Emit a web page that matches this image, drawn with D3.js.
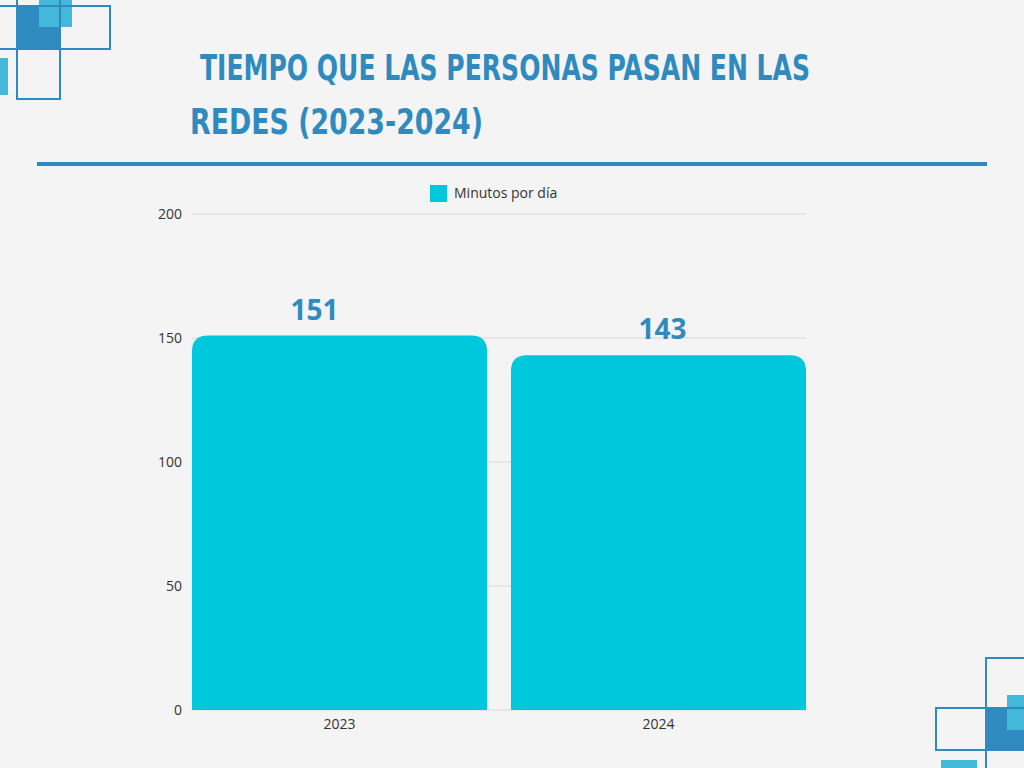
<!DOCTYPE html>
<html><head><meta charset="utf-8">
<script src="https://cdn.jsdelivr.net/npm/d3@7"></script>
<style>body{margin:0;background:#f4f4f4}</style>
</head><body>
<script>
const categories = ['2023', '2024'];
const values = [151, 143];
const yTicks = [0, 50, 100, 150, 200];
const seriesName = 'Minutos por día';

const svg = d3.select('body').append('svg').attr('width', 1024).attr('height', 768);
svg.append('rect').attr('width', 1024).attr('height', 768).attr('fill', '#f4f4f4');

const dark = '#2f8bbf', light = '#44b8d8';
// decorations
const deco = svg.append('g');
deco.append('rect').attr('x', 17).attr('y', 6).attr('width', 43).attr('height', 43).attr('fill', dark);
deco.append('rect').attr('x', 39).attr('y', 0).attr('width', 33).attr('height', 27).attr('fill', light);
deco.append('rect').attr('x', 0).attr('y', 58).attr('width', 8).attr('height', 37).attr('fill', light);
[[-20, 6, 37, 43], [60, 6, 50, 43], [17, 49, 43, 50], [17, -5, 43, 11]].forEach(r =>
  deco.append('rect').attr('x', r[0]).attr('y', r[1]).attr('width', r[2]).attr('height', r[3])
    .attr('fill', 'none').attr('stroke', dark).attr('stroke-width', 2));
deco.append('rect').attr('x', 986).attr('y', 708).attr('width', 40).attr('height', 42).attr('fill', dark);
deco.append('rect').attr('x', 1007).attr('y', 695).attr('width', 20).attr('height', 35).attr('fill', light);
deco.append('rect').attr('x', 941).attr('y', 760).attr('width', 36).attr('height', 10).attr('fill', light);
[[986, 658, 50, 50], [936, 708, 50, 42], [986, 750, 50, 30]].forEach(r =>
  deco.append('rect').attr('x', r[0]).attr('y', r[1]).attr('width', r[2]).attr('height', r[3])
    .attr('fill', 'none').attr('stroke', dark).attr('stroke-width', 2));

// title
const tf = "'Liberation Sans Narrow', 'DejaVu Sans Condensed', sans-serif";
svg.append('text').attr('x', 200).attr('y', 80).text('TIEMPO QUE LAS PERSONAS PASAN EN LAS')
  .attr('font-family', tf).attr('font-weight', 'bold').attr('font-size', 36).attr('fill', dark)
  .attr('textLength', 610).attr('lengthAdjust', 'spacingAndGlyphs');
svg.append('text').attr('x', 190).attr('y', 134).text('REDES (2023-2024)')
  .attr('font-family', tf).attr('font-weight', 'bold').attr('font-size', 36).attr('fill', dark)
  .attr('textLength', 293).attr('lengthAdjust', 'spacingAndGlyphs');
svg.append('rect').attr('x', 37).attr('y', 162).attr('width', 950).attr('height', 4).attr('fill', dark);

// legend
svg.append('rect').attr('x', 430).attr('y', 185).attr('width', 17).attr('height', 17).attr('fill', '#00c8dc');
svg.append('text').attr('x', 454).attr('y', 198).text(seriesName)
  .attr('font-family', 'Open Sans, sans-serif').attr('font-size', 14).attr('fill', '#333');

const x = d3.scaleBand().domain(categories).range([192, 806]).paddingInner(0.075).paddingOuter(0);
const y = d3.scaleLinear().domain([0, 200]).range([710, 214]);

const g = svg.append('g');
g.selectAll('.grid').data(yTicks).join('line')
  .attr('x1', 192).attr('x2', 806).attr('y1', d => y(d)).attr('y2', d => y(d))
  .attr('stroke', '#d8d8d8').attr('stroke-width', 1);
g.selectAll('.yl').data(yTicks).join('text')
  .attr('x', 182).attr('y', d => y(d) + 5).attr('text-anchor', 'end').text(d => d)
  .attr('font-family', 'Open Sans, sans-serif').attr('font-size', 14).attr('fill', '#333');

const r = 16;
g.selectAll('.bar').data(values).join('path')
  .attr('fill', '#00c8dc')
  .attr('d', (d, i) => {
    const x0 = x(categories[i]), w = x.bandwidth(), y0 = y(d), yb = y(0);
    return `M${x0},${yb}V${y0 + r}Q${x0},${y0} ${x0 + r},${y0}H${x0 + w - r}Q${x0 + w},${y0} ${x0 + w},${y0 + r}V${yb}Z`;
  });
g.selectAll('.vl').data(values).join('text')
  .attr('x', (d, i) => x(categories[i]) + x.bandwidth() / 2 + (i === 0 ? -25 : 4)).attr('y', d => y(d) - 16)
  .attr('text-anchor', 'middle').text(d => d)
  .attr('font-family', 'Open Sans, sans-serif').attr('font-weight', 'bold').attr('font-size', 28).attr('fill', dark);
g.selectAll('.xl').data(categories).join('text')
  .attr('x', d => x(d) + x.bandwidth() / 2).attr('y', 729).attr('text-anchor', 'middle').text(d => d)
  .attr('font-family', 'Open Sans, sans-serif').attr('font-size', 14).attr('fill', '#333');
</script>
</body></html>
